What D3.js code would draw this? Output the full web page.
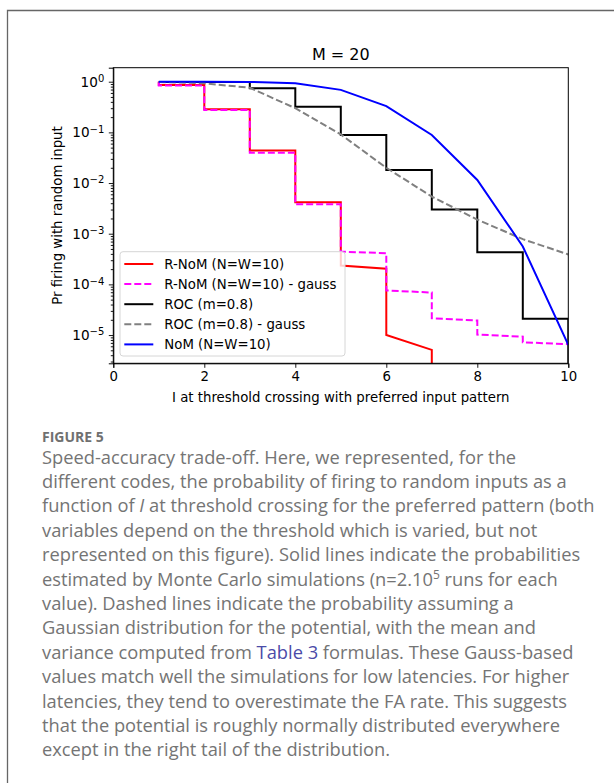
<!DOCTYPE html>
<html>
<head>
<meta charset="utf-8">
<script src="https://cdn.jsdelivr.net/npm/d3@7"></script>
<style>
  body { margin: 0; background: #fff; }
  svg { display: block; }
  .chart text { font-family: "DejaVu Sans", sans-serif; fill: #000; }
  .caption text { font-family: "Open Sans", sans-serif; }
</style>
</head>
<body>
<svg id="fig" width="614" height="783"></svg>
<script>
// values, [I, probability]; 0 means the curve drops off the axis
var rnom = [[1,1.0],[1,0.86],[2,0.86],[2,0.285],[3,0.285],[3,0.0437],[4,0.0437],[4,0.0042],[5,0.0042],
  [5,2.36e-4],[6,2.03e-4],[6,1.0e-5],[7,5.1e-6],[7,0]];
var rnomGauss = [[1,1.0],[1,0.84],[2,0.84],[2,0.275],[3,0.275],[3,0.0398],[4,0.0398],[4,0.0038],[5,0.0038],
  [5,4.43e-4],[6,4.12e-4],[6,7.6e-5],[7,6.9e-5],[7,2.14e-5],[8,1.94e-5],[8,1.02e-5],[9,9.3e-6],[9,7.2e-6],[10,6.6e-6]];
var roc = [[1,0.99],[3,0.99],[3,0.74],[4,0.74],[4,0.32],[5,0.32],[5,0.089],[6,0.089],[6,0.018],[7,0.018],
  [7,0.003],[8,0.003],[8,4.3e-4],[9,4.3e-4],[9,2.09e-5],[10,2.09e-5],[10,0]];
var rocGauss = [[1,0.99],[2,0.93],[3,0.76],[4,0.30],[5,0.091],[6,0.020],[7,0.0054],[8,0.0019],[9,7.8e-4],[10,3.9e-4]];
var nom = [[1,1.0],[2,1.0],[3,0.99],[4,0.93],[5,0.69],[6,0.33],[7,0.089],[8,0.0115],[9,5.6e-4],[10,6.4e-6]];

var seriesNames = ["R-NoM (N=W=10)", "R-NoM (N=W=10) - gauss", "ROC (m=0.8)", "ROC (m=0.8) - gauss", "NoM (N=W=10)"];
var seriesColors = ["#ff0000", "#ff00ff", "#000000", "#808080", "#0000ff"];
var seriesDashed = [false, true, false, true, false];
var seriesData = [rnom, rnomGauss, roc, rocGauss, nom];

var xTicks = [0, 2, 4, 6, 8, 10];
var yTicks = [1, 1e-1, 1e-2, 1e-3, 1e-4, 1e-5];
var yExp = ["0", "\u22121", "\u22122", "\u22123", "\u22124", "\u22125"];

var captionLines = [
  "Speed-accuracy trade-off. Here, we represented, for the",
  "different codes, the probability of firing to random inputs as a",
  "function of |I| at threshold crossing for the preferred pattern (both",
  "variables depend on the threshold which is varied, but not",
  "represented on this figure). Solid lines indicate the probabilities",
  "estimated by Monte Carlo simulations (n=2.10^5^ runs for each",
  "value). Dashed lines indicate the probability assuming a",
  "Gaussian distribution for the potential, with the mean and",
  "variance computed from [Table 3] formulas. These Gauss-based",
  "values match well the simulations for low latencies. For higher",
  "latencies, they tend to overestimate the FA rate. This suggests",
  "that the potential is roughly normally distributed everywhere",
  "except in the right tail of the distribution."
];

var svg = d3.select("#fig");

// page frame
svg.append("path").attr("d", "M7.5,783V10.5H614")
  .attr("fill", "none").attr("stroke", "#666").attr("stroke-width", 1.3);

var pLeft = 113.3, pTop = 67.7, pRight = 568.3, pBottom = 363.3;
var w = pRight - pLeft, h = pBottom - pTop;

var x = d3.scaleLinear().domain([0, 10]).range([0, w]);
var y = d3.scaleLog().domain([2.77e-6, 1.89]).range([h, 0]);

var g = svg.append("g").attr("class", "chart").attr("transform", "translate(" + pLeft + "," + pTop + ")");

g.append("defs").append("clipPath").attr("id", "clip")
  .append("rect").attr("width", w).attr("height", h);

var line = d3.line()
  .x(function (d) { return x(d[0]); })
  .y(function (d) { return d[1] > 0 ? y(d[1]) : h + 20; });

var plot = g.append("g").attr("clip-path", "url(#clip)");
seriesData.forEach(function (d, i) {
  plot.append("path").datum(d)
    .attr("d", line)
    .attr("fill", "none")
    .attr("stroke", seriesColors[i])
    .attr("stroke-width", 2)
    .attr("stroke-dasharray", seriesDashed[i] ? "7,3" : null);
});

// axes
var xAxis = g.append("g").attr("transform", "translate(0," + h + ")")
  .call(d3.axisBottom(x).tickValues(xTicks).tickSize(4.5).tickPadding(4).tickFormat(d3.format("d")));
xAxis.selectAll("text").style("font-size", "13.3px").attr("fill", "#000");

var minor = [];
for (var e = -6; e <= 0; e++) {
  for (var m = 2; m <= 9; m++) {
    var v = m * Math.pow(10, e);
    if (v > 2.77e-6 && v < 1.89) minor.push(v);
  }
}
g.append("g").call(d3.axisLeft(y).tickValues(minor).tickSize(2.5).tickFormat(""))
  .select(".domain").remove();

var yAxis = g.append("g")
  .call(d3.axisLeft(y).tickValues(yTicks).tickSize(4.5).tickPadding(4).tickFormat(""));
yAxis.selectAll(".tick").each(function (d, i) {
  var t = d3.select(this).append("text")
    .attr("x", -9).attr("dy", "0.32em").attr("fill", "#000")
    .attr("text-anchor", "end").style("font-size", "13.6px");
  t.append("tspan").text("10");
  t.append("tspan").attr("dy", "-0.45em").style("font-size", "10px").text(yExp[i]);
});

g.selectAll(".domain").attr("stroke", "#000").attr("stroke-width", 1);
g.selectAll(".tick line").attr("stroke", "#000").attr("stroke-width", 0.9);

g.append("rect").attr("width", w).attr("height", h)
  .attr("fill", "none").attr("stroke", "#000").attr("stroke-width", 1);

// labels
g.append("text").attr("x", w / 2).attr("y", -8).attr("text-anchor", "middle")
  .style("font-size", "16px").text("M = 20");
g.append("text").attr("x", w / 2).attr("y", h + 39).attr("text-anchor", "middle")
  .style("font-size", "13.3px").text("I at threshold crossing with preferred input pattern");
g.append("text").attr("transform", "translate(" + (58 - pLeft + 4) + "," + (h / 2) + ") rotate(-90)")
  .attr("text-anchor", "middle").style("font-size", "13.3px").text("Pr firing with random input");

// legend
var lg = g.append("g").attr("transform", "translate(" + (120 - pLeft) + "," + (251.7 - pTop) + ")");
lg.append("rect").attr("width", 225).attr("height", 104.3).attr("rx", 3)
  .attr("fill", "#fff").attr("fill-opacity", 0.8).attr("stroke", "#d6d6d6");
seriesNames.forEach(function (name, i) {
  var yy = 12.3 + i * 20.1;
  lg.append("line").attr("x1", 4.3).attr("x2", 33.3).attr("y1", yy).attr("y2", yy)
    .attr("stroke", seriesColors[i]).attr("stroke-width", 2)
    .attr("stroke-dasharray", seriesDashed[i] ? "7,3" : null);
  lg.append("text").attr("x", 44.3).attr("y", yy).attr("dy", "0.35em")
    .style("font-size", "13.3px").text(name);
});

// caption
var cap = svg.append("g").attr("class", "caption");
cap.append("text").attr("x", 42).attr("y", 441.5)
  .style("font-size", "14px").style("font-weight", "bold").attr("fill", "#707070")
  .text("FIGURE 5");

captionLines.forEach(function (ln, i) {
  var t = cap.append("text").attr("x", 42).attr("y", 463.5 + i * 24.4)
    .style("font-size", "18.3px").attr("fill", "#747474");
  var back = null;
  // split into plain, italic |..|, superscript ^..^ and link [..] pieces
  ln.split(/(\|[^|]*\||\^[^^]*\^|\[[^\]]*\])/).forEach(function (p) {
    if (!p) return;
    var s;
    if (p[0] === "|") s = t.append("tspan").style("font-style", "italic").text(p.slice(1, -1));
    else if (p[0] === "^") {
      t.append("tspan").attr("dy", "-7").style("font-size", "12px").text(p.slice(1, -1));
      back = 7;
      return;
    }
    else if (p[0] === "[") s = t.append("tspan").attr("fill", "#4b4ba8").text(p.slice(1, -1));
    else s = t.append("tspan").text(p);
    if (back) { s.attr("dy", back); back = null; }
  });
});
</script>
</body>
</html>
